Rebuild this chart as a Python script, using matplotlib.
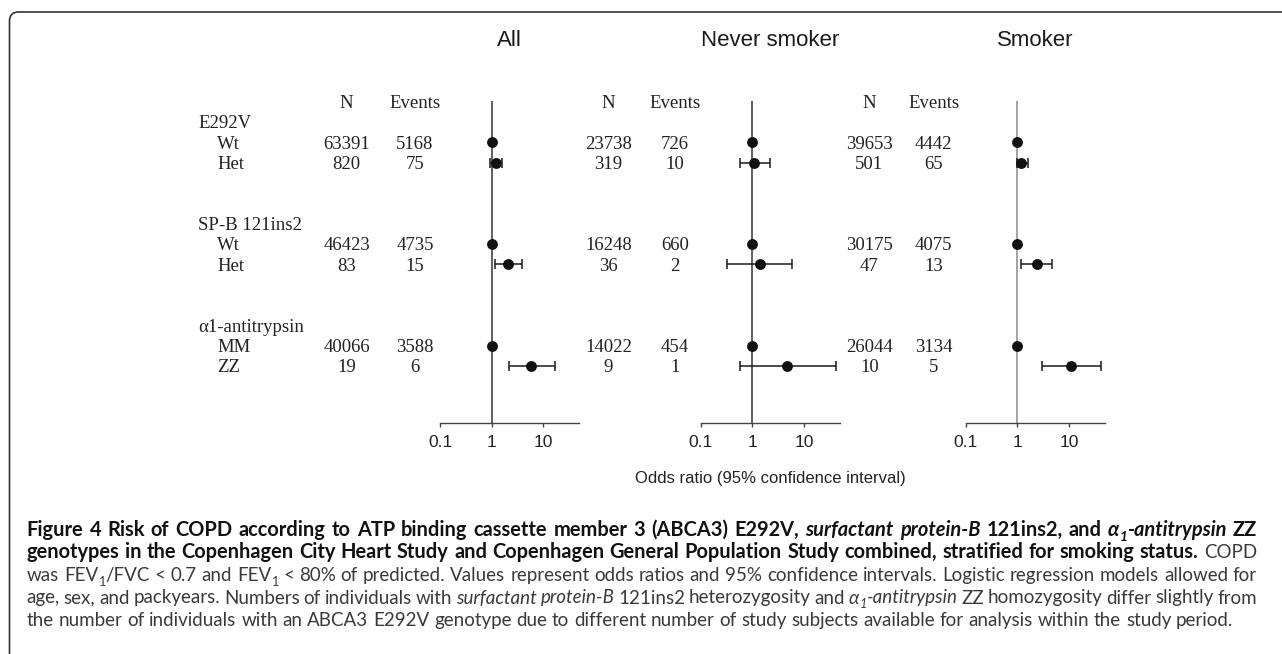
import numpy as np
import matplotlib
matplotlib.use("Agg")
import matplotlib.pyplot as plt
from matplotlib.patches import FancyBboxPatch
from matplotlib.transforms import Affine2D

# ---------------- data ----------------
panels = ["All", "Never smoker", "Smoker"]
groups = ["E292V", "SP-B 121ins2", "α1-antitrypsin"]
genotypes = ["Wt", "Het", "Wt", "Het", "MM", "ZZ"]

n_all = [63391, 820, 46423, 83, 40066, 19]
events_all = [5168, 75, 4735, 15, 3588, 6]
n_never = [23738, 319, 16248, 36, 14022, 9]
events_never = [726, 10, 660, 2, 454, 1]
n_smoker = [39653, 501, 30175, 47, 26044, 10]
events_smoker = [4442, 65, 4075, 13, 3134, 5]

nan = np.nan
or_all = [1, 1.21, 1, 2.1, 1, 5.9]
lo_all = [nan, 0.94, nan, 1.16, nan, 2.19]
hi_all = [nan, 1.58, nan, 3.9, nan, 16.8]
or_never = [1, 1.09, 1, 1.41, 1, 4.8]
lo_never = [nan, 0.58, nan, 0.33, nan, 0.58]
hi_never = [nan, 2.2, nan, 6.0, nan, 41]
or_smoker = [1, 1.2, 1, 2.36, 1, 11.1]
lo_smoker = [nan, 0.98, nan, 1.2, nan, 3.0]
hi_smoker = [nan, 1.58, nan, 4.8, nan, 42]

xticks = [0.1, 1, 10]
xtick_labels = ["0.1", "1", "10"]
x_label = "Odds ratio (95% confidence interval)"

# ---------------- layout (pixels) ----------------
W, H = 1282, 654
fig = plt.figure(figsize=(W / 100, H / 100), dpi=100)
PX = Affine2D().scale(1, -1).translate(0, H)

ROW0 = 101.7
ROWH = 20.33
group_rows = [1, 6, 11]
geno_rows = [2, 3, 7, 8, 12, 13]
AX_TOP = 100.7
AX_BOTTOM = 422.7
one_x = [491.7, 752.3, 1017.3]
decade = 51.6
xmin, xmax = 0.1, 50
n_col = [346.7, 608.5, 869.3]
ev_col = [415.0, 674.7, 933.7]
vline_col = ["#333333", "#333333", "#8a8a8a"]

serif = "Liberation Serif"
sans = "Liberation Sans"
tcol = "#222222"
ser_size = 13.5
base_off = 6.3  # baseline offset from glyph centre


def rowy(r):
    return ROW0 + r * ROWH


ns = [n_all, n_never, n_smoker]
evs = [events_all, events_never, events_smoker]
ors = [or_all, or_never, or_smoker]
los = [lo_all, lo_never, lo_smoker]
his = [hi_all, hi_never, hi_smoker]

# row labels
for gi, g in enumerate(groups):
    fig.text(198.3, rowy(group_rows[gi]) + base_off, g, transform=PX,
             ha="left", va="baseline", family=serif, fontsize=ser_size, color=tcol)
for ri, gt in enumerate(genotypes):
    fig.text(217.3, rowy(geno_rows[ri]) + base_off, gt, transform=PX,
             ha="left", va="baseline", family=serif, fontsize=ser_size, color=tcol)

for p in range(3):
    left = one_x[p] + decade * np.log10(xmin)
    right = one_x[p] + decade * np.log10(xmax)
    ax = fig.add_axes([left / W, 1 - AX_BOTTOM / H, (right - left) / W,
                       (AX_BOTTOM - AX_TOP) / H])
    ax.set_xscale("log")
    ax.set_xlim(xmin, xmax)
    ax.set_ylim(AX_BOTTOM, AX_TOP)
    ax.patch.set_visible(False)
    for s in ["top", "right", "left"]:
        ax.spines[s].set_visible(False)
    ax.spines["bottom"].set_color("#444444")
    ax.spines["bottom"].set_linewidth(1.0)
    ax.set_yticks([])
    ax.set_xticks(xticks)
    ax.set_xticklabels(xtick_labels)
    ax.xaxis.set_minor_locator(matplotlib.ticker.NullLocator())
    ax.tick_params(axis="x", direction="out", length=3.2, width=1.0,
                   color="#444444", pad=6.0, labelsize=12.6, labelcolor="#222222")
    for lab in ax.get_xticklabels():
        lab.set_family(sans)
    ax.axvline(1, color=vline_col[p], lw=1.1, zorder=1)

    o = np.array(ors[p], dtype=float)
    lo = np.array(los[p], dtype=float)
    hi = np.array(his[p], dtype=float)
    ys = np.array([rowy(r) for r in geno_rows])
    ok = ~np.isnan(lo)
    ax.errorbar(o[ok], ys[ok], xerr=[o[ok] - lo[ok], hi[ok] - o[ok]], fmt="none",
                ecolor="#1a1a1a", elinewidth=1.1, capsize=3.3, capthick=1.1,
                zorder=2, clip_on=False)
    ax.plot(o, ys, "o", color="#111111", ms=6.8, zorder=3, clip_on=False)

    # title
    fig.text((left + right) / 2, 41, panels[p], transform=PX, ha="center",
             va="center", family=sans, fontsize=16, color="#1a1a1a")
    # headers
    fig.text(n_col[p], rowy(0) + base_off, "N", transform=PX, ha="center",
             va="baseline", family=serif, fontsize=ser_size, color=tcol)
    fig.text(ev_col[p], rowy(0) + base_off, "Events", transform=PX, ha="center",
             va="baseline", family=serif, fontsize=ser_size, color=tcol)
    for ri in range(6):
        y = rowy(geno_rows[ri]) + base_off
        fig.text(n_col[p], y, str(ns[p][ri]), transform=PX, ha="center",
                 va="baseline", family=serif, fontsize=ser_size, color=tcol)
        fig.text(ev_col[p], y, str(evs[p][ri]), transform=PX, ha="center",
                 va="baseline", family=serif, fontsize=ser_size, color=tcol)

fig.text(770, 478, x_label, transform=PX, ha="center", va="center",
         family=sans, fontsize=12, color="#222222")

# ---------------- frame ----------------
frame = FancyBboxPatch((9.5, 12), 1400, 800, boxstyle="round,pad=0,rounding_size=9",
                       transform=PX, fill=False, ec="#333333", lw=1.2)
fig.add_artist(frame)

# ---------------- caption ----------------
cap_family = ["Lato", "DejaVu Sans"]
cap_lines = [
    [("Figure 4 Risk of COPD according to ATP binding cassette member 3 (ABCA3) E292V, ", "B"),
     ("surfactant protein-B", "BI"), (" 121ins2, and ", "B"), ("α", "BI"), ("1", "BIs"),
     ("-antitrypsin", "BI"), (" ZZ", "B")],
    [("genotypes in the Copenhagen City Heart Study and Copenhagen General Population Study combined, stratified for smoking status.", "B"),
     (" COPD", "R")],
    [("was FEV", "R"), ("1", "Rs"), ("/FVC < 0.7 and FEV", "R"), ("1", "Rs"),
     (" < 80% of predicted. Values represent odds ratios and 95% confidence intervals. Logistic regression models allowed for", "R")],
    [("age, sex, and packyears. Numbers of individuals with ", "R"), ("surfactant protein-B", "I"),
     (" 121ins2 heterozygosity and ", "R"), ("α", "I"), ("1", "Is"), ("-antitrypsin", "I"),
     (" ZZ homozygosity differ slightly from", "R")],
    [("the number of individuals with an ABCA3 E292V genotype due to different number of study subjects available for analysis within the study period.", "R")],
]
cap_baselines = [535.7, 558.3, 581.0, 603.5, 626.0]
cap_justify = [True, True, True, True, False]
CAP_X0 = 26.7
CAP_X1 = 1257.0
LAST_END = 1231.0

renderer = fig.canvas.get_renderer()
sizes = {"R": 13.0, "B": 13.0}


def kw_for(st):
    size = sizes["B"] if "B" in st else sizes["R"]
    kw = dict(family=cap_family, fontsize=size * (0.68 if "s" in st else 1.0))
    kw["fontweight"] = "bold" if "B" in st else "normal"
    kw["fontstyle"] = "italic" if "I" in st else "normal"
    kw["color"] = "#111111" if "B" in st else "#3a3a3a"
    return kw


def measure(text, st):
    t = fig.text(0, 0, text, **kw_for(st))
    w = t.get_window_extent(renderer).width
    t.remove()
    return w


def to_words(runs):
    words = [[]]
    for text, st in runs:
        parts = text.split(" ")
        for i, part in enumerate(parts):
            if i > 0:
                words.append([])
            if part:
                words[-1].append((part, st))
    return [w for w in words if w]


def space_w(st):
    return measure("x x", st) - measure("xx", st)


def natural_width(words):
    tot = sum(measure(t, s) for w in words for t, s in w)
    sp = sum(space_w(words[i + 1][0][1]) for i in range(len(words) - 1))
    return tot + sp


# fit regular size on the last (ragged) line, bold size on the two bold lines
w5 = to_words(cap_lines[4])
sizes["R"] = 13.0 * (LAST_END - CAP_X0) / natural_width(w5)
fits = []
for li in (0, 1):
    sizes["B"] = 13.0
    fits.append(13.0 * (CAP_X1 - 4 - CAP_X0) / natural_width(to_words(cap_lines[li])))
sizes["B"] = min(fits)

for li, runs in enumerate(cap_lines):
    words = to_words(runs)
    widths = [[measure(t, s) for t, s in w] for w in words]
    tot = sum(sum(ws) for ws in widths)
    if cap_justify[li]:
        gaps = [(CAP_X1 - CAP_X0 - tot) / (len(words) - 1)] * (len(words) - 1)
    else:
        gaps = [space_w(words[i + 1][0][1]) for i in range(len(words) - 1)]
    x = CAP_X0
    yb = cap_baselines[li]
    for wi, w in enumerate(words):
        for (t, s), ww in zip(w, widths[wi]):
            sz = sizes["B"] if "B" in s else sizes["R"]
            y = yb + (0.25 * sz * 100 / 72 if "s" in s else 0)
            fig.text(x, y, t, transform=PX, ha="left", va="baseline", **kw_for(s))
            x += ww
        if wi < len(gaps):
            x += gaps[wi]

fig.savefig("out.png", dpi=100)
